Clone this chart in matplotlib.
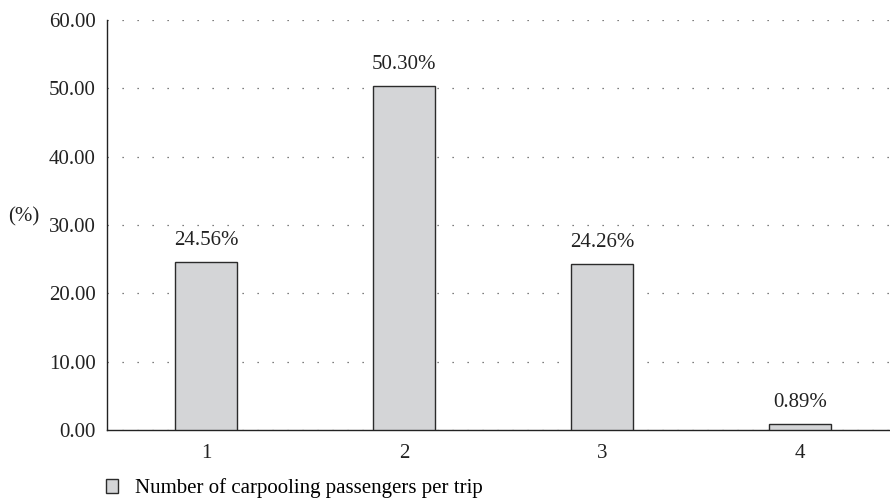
import matplotlib.pyplot as plt
from matplotlib.patches import Patch

# passengers per carpool trip and share of trips (%)
categories = ['1', '2', '3', '4']
shares = [24.56, 50.30, 24.26, 0.89]
yticks = [0, 10, 20, 30, 40, 50, 60]

plt.rcParams['font.family'] = ['Liberation Serif', 'DejaVu Serif']
plt.rcParams['font.size'] = 15

fig = plt.figure(figsize=(8.9, 5.04), dpi=100)
ax = fig.add_axes([0.1202, 0.1468, 0.8798, 0.8135])

x = [1, 2, 3, 4]
bars = ax.bar(x, shares, width=0.315, color='#d4d5d7', edgecolor='#2b2b2b',
              linewidth=1.0, zorder=3)
for xi, v in zip(x, shares):
    ax.text(xi, v + 1.8, f'{v:.2f}%', ha='center', va='bottom', fontsize=15, color='#222222')

ax.set_xlim(0.5, 4.455)
ax.set_ylim(0, 60)
ax.set_xticks(x)
ax.set_xticklabels(categories)
ax.set_yticks(yticks)
ax.set_yticklabels([f'{t:.2f}' for t in yticks])
ax.tick_params(length=0, labelsize=15, colors='#222222')
ax.tick_params(axis='x', pad=10)
ax.tick_params(axis='y', pad=8)

ax.grid(axis='y', linestyle=(0, (1, 11)), color='#555555', linewidth=0.9, zorder=0)
for s in ['top', 'right']:
    ax.spines[s].set_visible(False)
for s in ['left', 'bottom']:
    ax.spines[s].set_color('#222222')
    ax.spines[s].set_linewidth(1.0)

fig.text(0.009, 0.57, '(%)', fontsize=15, color='#222222', va='center')

handle = Patch(facecolor='#d4d5d7', edgecolor='#2b2b2b', linewidth=1.0)
fig.legend([handle], ['Number of carpooling passengers per trip'], loc='lower left',
           bbox_to_anchor=(0.098, -0.026), frameon=False, fontsize=15,
           handlelength=0.6, handleheight=0.6, handletextpad=0.8)

fig.savefig('out.png', dpi=100)
